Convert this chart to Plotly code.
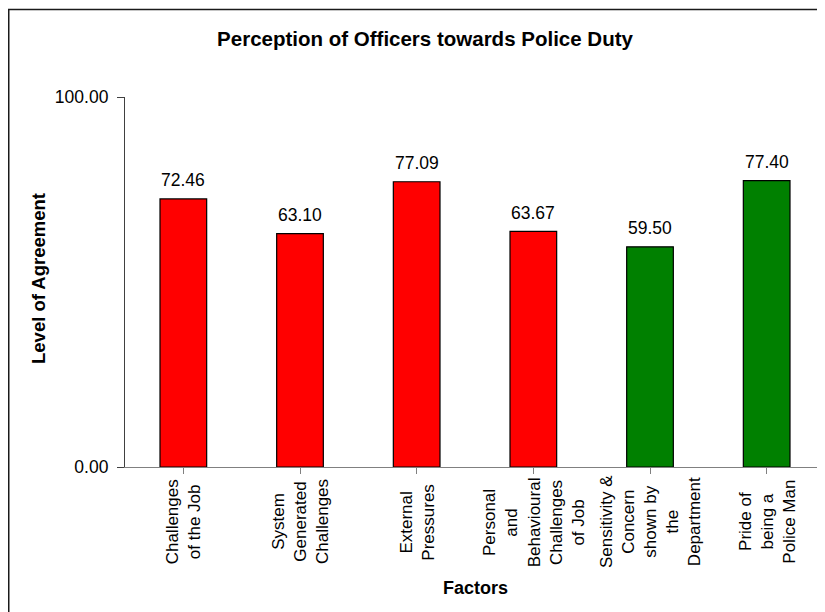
import plotly.graph_objects as go

categories = [
    "Challenges<br>of the Job",
    "System<br>Generated<br>Challenges",
    "External<br>Pressures",
    "Personal<br>and<br>Behavioural<br>Challenges<br>of Job",
    "Sensitivity &<br>Concern<br>shown by<br>the<br>Department",
    "Pride of<br>being a<br>Police Man",
]
values = [72.46, 63.10, 77.09, 63.67, 59.50, 77.40]
bar_colors = ["#FF0000", "#FF0000", "#FF0000", "#FF0000", "#008000", "#008000"]
y_ticks = [0, 100]
y_tick_labels = ["0.00", "100.00"]

FONT = "Liberation Sans, Arial, sans-serif"
OFF = 8  # page body margin
W, H = 825 - OFF, 612 - OFF
# plot area in page pixels: x 125..825, y 97..467
L, T = 125 - OFF, 97 - OFF
PW, PH = 700, 370
R = W - L - PW
B = H - T - PH

def px_x(px):  # page pixel -> paper x
    return (px - OFF - L) / PW

def px_y(py):  # page pixel -> paper y
    return (T + PH - (py - OFF)) / PH

fig = go.Figure()
fig.add_trace(go.Bar(
    x=list(range(len(categories))),
    y=values,
    marker=dict(color=bar_colors, line=dict(color="#000000", width=1.2)),
    width=0.4,
    hoverinfo="skip",
))

annotations = []
for i, v in enumerate(values):
    annotations.append(dict(
        x=i, y=v, xref="x", yref="y", text=f"{v:.2f}", showarrow=False,
        yanchor="middle", xanchor="center", yshift=18.5,
        font=dict(family=FONT, size=17.5, color="#000000"),
    ))
for i, c in enumerate(categories):
    annotations.append(dict(
        x=i, y=px_y(522), xref="x", yref="paper", text=c, showarrow=False,
        textangle=-90, xanchor="center", yanchor="middle", align="center",
        font=dict(family=FONT, size=17, color="#000000"),
    ))
annotations.append(dict(
    x=px_x(38), y=px_y(279), xref="paper", yref="paper",
    text="<b>Level of Agreement</b>", showarrow=False, textangle=-90,
    xanchor="center", yanchor="middle",
    font=dict(family=FONT, size=18.5, color="#000000"),
))
annotations.append(dict(
    x=0.5, y=px_y(588), xref="paper", yref="paper",
    text="<b>Factors</b>", showarrow=False,
    xanchor="center", yanchor="middle",
    font=dict(family=FONT, size=18, color="#000000"),
))

fig.update_layout(
    width=W, height=H,
    margin=dict(l=L, r=R, t=T, b=B, pad=0),
    paper_bgcolor="#FFFFFF", plot_bgcolor="#FFFFFF",
    showlegend=False,
    title=dict(
        text="<b>Perception of Officers towards Police Duty</b>",
        x=(425 - OFF) / W, xanchor="center", xref="container",
        y=1 - (39 - OFF) / H, yanchor="middle", yref="container",
        font=dict(family=FONT, size=20.5, color="#000000"),
    ),
    xaxis=dict(
        range=[-0.5, len(categories) - 0.5],
        tickmode="array", tickvals=list(range(len(categories))),
        ticktext=[""] * len(categories),
        tickson="boundaries", ticks="outside", ticklen=6, tickcolor="#808080",
        showline=True, linecolor="#808080", linewidth=1.2,
        showgrid=False, zeroline=False, fixedrange=True,
    ),
    yaxis=dict(
        range=[0, 100],
        tickmode="array", tickvals=y_ticks, ticktext=y_tick_labels,
        ticks="outside", ticklen=7, tickcolor="#404040",
        ticklabelstandoff=5,
        showline=True, linecolor="#404040", linewidth=1.2,
        showgrid=False, zeroline=False,
        tickfont=dict(family=FONT, size=17.5, color="#000000"),
        fixedrange=True,
    ),
    annotations=annotations,
    shapes=[dict(
        type="rect", xref="paper", yref="paper",
        x0=px_x(8.75), x1=px_x(840), y0=px_y(640), y1=px_y(9.5),
        line=dict(color="#1a1a1a", width=1.5), fillcolor="rgba(0,0,0,0)",
        layer="below",
    )],
)

fig.write_html("out.html")
